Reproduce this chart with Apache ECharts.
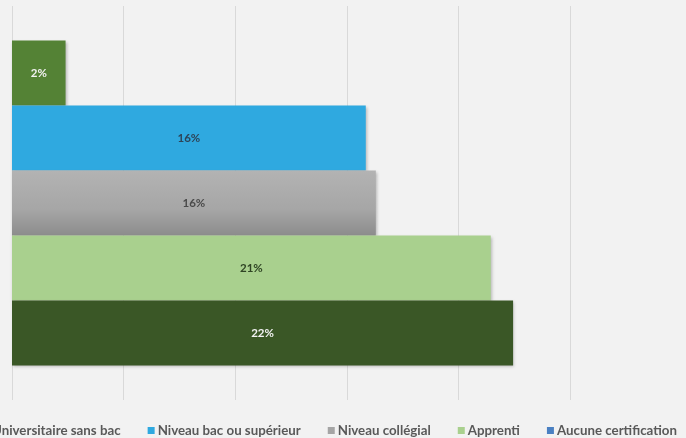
<!DOCTYPE html>
<html>
<head>
<meta charset="utf-8">
<script src="https://cdn.jsdelivr.net/npm/echarts@6/dist/echarts.min.js"></script>
<style>
  html, body { margin: 0; padding: 0; background: #F2F2F2; }
  #chart { width: 686px; height: 438px; }
</style>
</head>
<body>
<div id="chart"></div>
<script>
// series, top bar first
const seriesNames = ['Universitaire sans bac', 'Niveau bac ou supérieur', 'Niveau collégial', 'Apprenti', 'Aucune certification'];
const seriesValues = [2.4, 15.85, 16.3, 21.45, 22.45];
const barColors = ['#548235', '#2FA9E0', '#A5A5A5', '#A9D08E', '#3A5726'];
const legendColors = ['#548235', '#2FA9E0', '#A5A5A5', '#A9D08E', '#4A80C2'];
const labelColors = ['#F2F2F2', '#2D4458', '#4A4A4A', '#2F4424', '#F2F2F2'];

const chart = echarts.init(document.getElementById('chart'));

let series = [];
for (let i = 0; i < seriesNames.length; i++) {
  let color = barColors[i];
  if (i == 2) {
    color = new echarts.graphic.LinearGradient(0, 0, 0, 1, [
      {offset: 0, color: '#B3B3B3'},
      {offset: 0.6, color: '#A6A6A6'},
      {offset: 1, color: '#8C8C8C'}
    ]);
  }
  series.push({
    name: seriesNames[i],
    type: 'bar',
    barWidth: 65,
    barGap: '0%',
    data: [seriesValues[i]],
    itemStyle: {
      color: color,
      shadowBlur: 3,
      shadowOffsetX: 1,
      shadowOffsetY: 1,
      shadowColor: 'rgba(0,0,0,0.25)'
    },
    label: {
      show: true,
      position: 'inside',
      color: labelColors[i],
      fontFamily: 'Lato',
      fontWeight: 'bold',
      fontSize: 11.5,
      formatter: p => Math.round(p.value) + '%'
    }
  });
}

chart.setOption({
  backgroundColor: '#F2F2F2',
  animation: false,
  grid: { left: 12, right: 116, top: 6, bottom: 38 },
  xAxis: {
    type: 'value',
    min: 0,
    max: 25,
    interval: 5,
    axisLine: { show: false },
    axisTick: { show: false },
    axisLabel: { show: false },
    splitLine: { lineStyle: { color: '#D9D9D9', width: 1 } }
  },
  yAxis: {
    type: 'category',
    data: [''],
    inverse: true,
    axisLine: { show: false },
    axisTick: { show: false },
    axisLabel: { show: false }
  },
  legend: {
    left: -18,
    bottom: 1,
    width: 800,
    padding: 0,
    itemWidth: 7,
    itemHeight: 7,
    itemGap: 27,
    icon: 'rect',
    textStyle: { fontFamily: 'Lato', fontWeight: 'bold', fontSize: 13.3, color: '#595959', padding: [0, 0, 0, -2] },
    data: seriesNames.map((n, i) => ({ name: n, itemStyle: { color: legendColors[i] } }))
  },
  series: series
});
</script>
</body>
</html>
